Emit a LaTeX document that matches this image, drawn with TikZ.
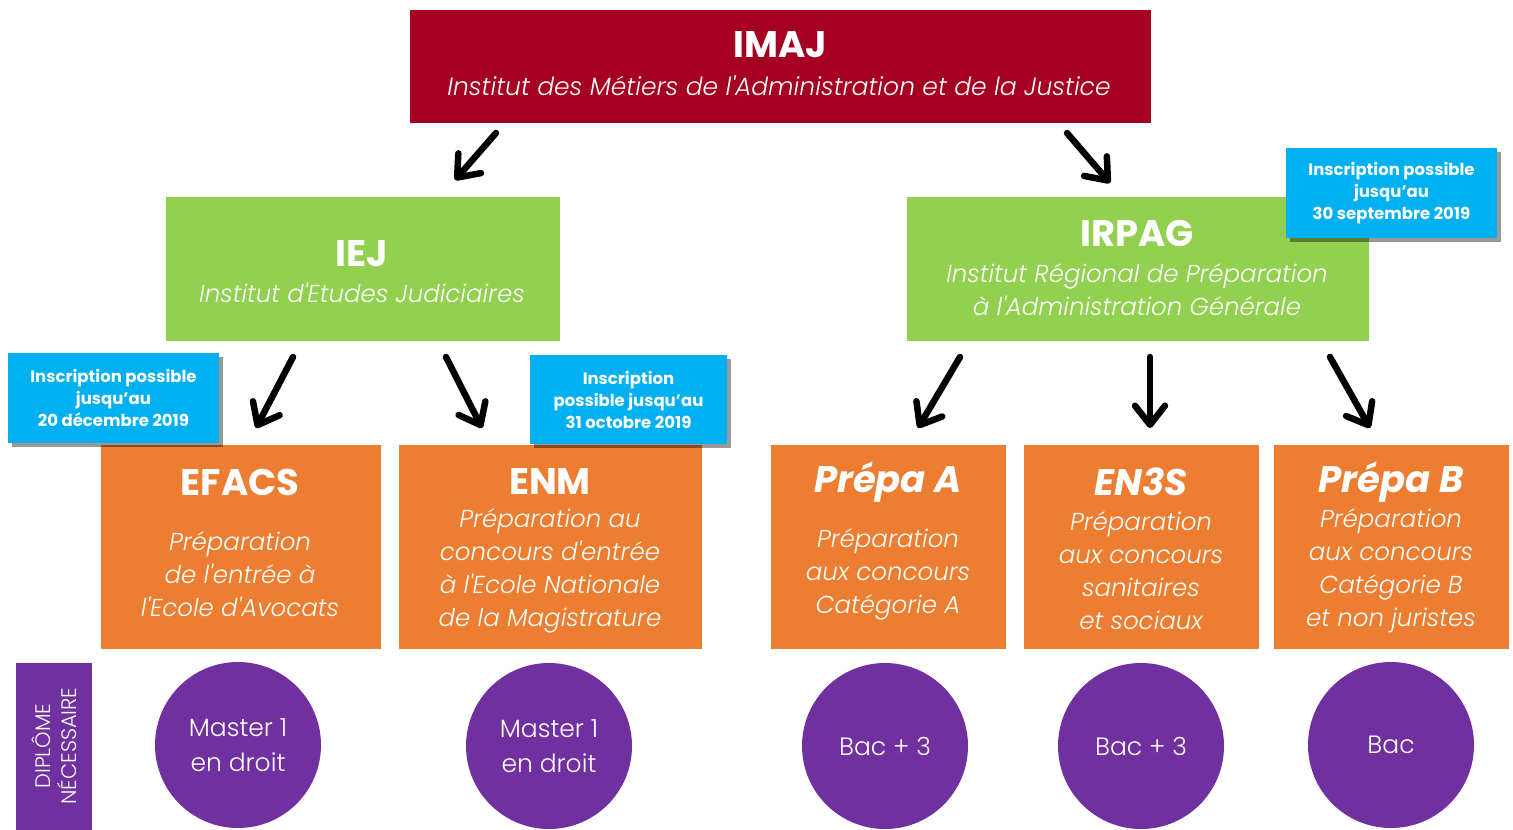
\documentclass[tikz,border=0pt]{standalone}
\usepackage{fontspec}
\setmainfont{Poppins}[Ligatures=TeXOff]
\newfontfamily\plight{Poppins Light}[Ligatures=TeXOff]
\usetikzlibrary{arrows.meta,shadows}
\definecolor{cRed}{HTML}{A50021}
\definecolor{cGreen}{HTML}{92D050}
\definecolor{cOrange}{HTML}{ED7D31}
\definecolor{cBlue}{HTML}{00B0F0}
\definecolor{cPurple}{HTML}{7030A0}
\tikzset{
  box/.style={rectangle, inner sep=0pt, outer sep=0pt},
  txt/.style={text=white, align=center, inner sep=0pt, anchor=center},
  bigt/.style={txt, font=\bfseries\fontsize{37}{40}\selectfont},
  bigi/.style={txt, font=\bfseries\itshape\fontsize{37}{40}\selectfont},
  subt/.style={txt, font=\plight\itshape\fontsize{24.5}{33}\selectfont},
  info/.style={box, fill=cBlue, text=white, align=center,
    font=\bfseries\fontsize{16.5}{22}\selectfont,
    drop shadow={shadow xshift=4pt, shadow yshift=-4pt, opacity=0.4, fill=black}},
  circ/.style={circle, fill=cPurple, minimum size=166pt, inner sep=0pt, text=white,
    align=center, font=\plight\fontsize{25}{35}\selectfont},
  arr/.style={line width=6.5pt, line cap=round, draw=black,
    -{Straight Barb[length=19pt, width=30pt, line cap=round, line join=round]}}
}
\begin{document}
\begin{tikzpicture}[x=1pt, y=-1pt]
\useasboundingbox (0,0) rectangle (1513,830);
% top
\node[box, fill=cRed, minimum width=741pt, minimum height=113pt] (imaj) at (780,66) {};
\node[bigt] (imajt) at (780,45) {IMAJ};
\node[txt, font=\plight\itshape\fontsize{25}{28}\selectfont] (imajs) at (779,86) {Institut des Métiers de l'Administration et de la Justice};
% second level
\node[box, fill=cGreen, minimum width=394pt, minimum height=144pt] (iej) at (362.5,268.5) {};
\node[bigt] (iejt) at (362,254) {IEJ};
\node[subt] (iejs) at (362,293) {Institut d'Etudes Judiciaires};
\node[box, fill=cGreen, minimum width=462pt, minimum height=144pt] (irpag) at (1137.5,268.5) {};
\node[bigt] (irpagt) at (1137,233) {IRPAG};
\node[subt] (irpags) at (1137,290) {Institut Régional de Préparation\\à l'Administration Générale};
% orange boxes
\node[box, fill=cOrange, minimum width=280pt, minimum height=204pt] (efacs) at (240.5,546.5) {};
\node[box, fill=cOrange, minimum width=303pt, minimum height=204pt] (enm) at (550.5,546.5) {};
\node[box, fill=cOrange, minimum width=235pt, minimum height=204pt] (prepaa) at (888,546.5) {};
\node[box, fill=cOrange, minimum width=235pt, minimum height=204pt] (en3s) at (1141,546.5) {};
\node[box, fill=cOrange, minimum width=235pt, minimum height=204pt] (prepab) at (1391,546.5) {};
\node[bigt] (efacst) at (240,482) {EFACS};
\node[subt] (efacss) at (240,574) {Préparation\\de l'entrée à\\l'Ecole d'Avocats};
\node[bigt] (enmt) at (550,482) {ENM};
\node[subt] (enms) at (550,571) {Préparation au\\concours d'entrée\\à l'Ecole Nationale\\de la Magistrature};
\node[bigi] (prepaat) at (888,482) {Prépa A};
\node[subt] (prepaas) at (888,574) {Préparation\\aux concours\\Catégorie A};
\node[bigi] (en3st) at (1141,482) {EN3S};
\node[subt] (en3ss) at (1141,571) {Préparation\\aux concours\\sanitaires\\et sociaux};
\node[bigi] (prepabt) at (1391,482) {Prépa B};
\node[subt] (prepabs) at (1391,571) {Préparation\\aux concours\\Catégorie B\\et non juristes};
% info boxes
\node[info, minimum width=211pt, minimum height=90pt] (info1) at (113.5,398) {Inscription possible\\jusqu’au\\20 décembre 2019};
\node[info, minimum width=197pt, minimum height=89pt] (info2) at (628.5,399.5) {Inscription\\possible jusqu’au\\31 octobre 2019};
\node[info, minimum width=211pt, minimum height=90pt] (info3) at (1391.5,193) {Inscription possible\\jusqu’au\\30 septembre 2019};
% purple
\node[box, fill=cPurple, minimum width=76pt, minimum height=167pt] (dipl) at (53.5,746) {};
\node[txt, rotate=90, font=\plight\fontsize{21}{26}\selectfont] (diplt) at (54,746) {DIPLÔME\\NÉCESSAIRE};
\node[circ] (c1) at (238,745) {Master 1\\en droit};
\node[circ] (c2) at (549,746) {Master 1\\en droit};
\node[circ] (c3) at (885,746) {Bac + 3};
\node[circ] (c4) at (1141,746) {Bac + 3};
\node[circ] (c5) at (1391,745) {Bac};
% arrows
\coordinate (a1s) at (496,133); \coordinate (a1e) at (455,180);
\coordinate (a2s) at (1067,133); \coordinate (a2e) at (1110,183);
\coordinate (a3s) at (293,357); \coordinate (a3e) at (256,428);
\coordinate (a4s) at (446,357); \coordinate (a4e) at (482,428);
\coordinate (a5s) at (960,357); \coordinate (a5e) at (918,428);
\coordinate (a6s) at (1150,357); \coordinate (a6e) at (1150,428);
\coordinate (a7s) at (1330,357); \coordinate (a7e) at (1370,428);
\foreach \i in {1,...,7} { \draw[arr] (a\i s) -- (a\i e); }
\end{tikzpicture}
\end{document}
